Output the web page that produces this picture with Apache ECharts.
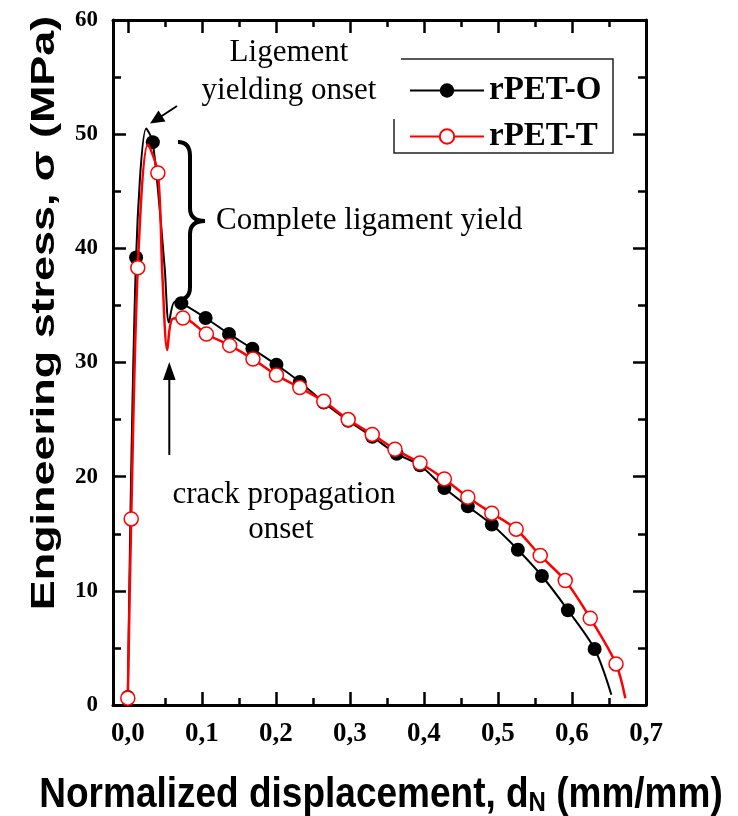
<!DOCTYPE html>
<html><head><meta charset="utf-8">
<script src="https://cdn.jsdelivr.net/npm/echarts@6/dist/echarts.min.js"></script>
<style>html,body{margin:0;padding:0;background:#fff}#c{width:738px;height:816px}</style>
</head><body><div id="c"></div>
<script>
// ---- data ----
const xMajorTicks = [0, 0.1, 0.2, 0.3, 0.4, 0.5, 0.6, 0.7];
const xMinorTicks = [0.05, 0.15, 0.25, 0.35, 0.45, 0.55, 0.65];
const seriesNames = ['rPET-O', 'rPET-T'];

// rPET-O curve points (x = normalized displacement, y = stress MPa), marker flags
const oX = [0.000, 0.0112, 0.0249, 0.0338, 0.0497, 0.0555, 0.0630, 0.0723, 0.1051, 0.1367, 0.1683, 0.2008, 0.2323, 0.2647, 0.2977, 0.3302, 0.3632, 0.3947, 0.4276, 0.4593, 0.4917, 0.5269, 0.5594, 0.5946, 0.6306, 0.6532];
const oY = [0.7, 39.2, 50.5, 49.3, 38.4, 33.5, 35.3, 35.2, 33.9, 32.5, 31.2, 29.8, 28.3, 26.5, 24.9, 23.5, 22.0, 21.0, 19.0, 17.4, 15.8, 13.6, 11.3, 8.3, 4.9, 0.9];
const oMark = [1, 1, 0, 1, 0, 0, 0, 1, 1, 1, 1, 1, 1, 1, 1, 1, 1, 1, 1, 1, 1, 1, 1, 1, 1, 0];

// rPET-T curve points
const tX = [0.000, 0.0046, 0.0135, 0.0271, 0.0406, 0.0468, 0.0533, 0.0600, 0.0744, 0.1061, 0.1376, 0.1691, 0.2008, 0.2323, 0.2647, 0.2977, 0.3302, 0.3609, 0.3947, 0.4276, 0.4593, 0.4917, 0.5246, 0.5571, 0.5909, 0.6247, 0.6595, 0.6721];
const tY = [0.6, 16.3, 38.3, 49.1, 46.6, 37.5, 31.1, 33.8, 33.9, 32.5, 31.5, 30.3, 28.9, 27.8, 26.6, 25.0, 23.7, 22.4, 21.2, 19.8, 18.2, 16.8, 15.4, 13.1, 10.9, 7.6, 3.6, 0.6];
const tMark = [1, 1, 1, 0, 1, 0, 0, 0, 1, 1, 1, 1, 1, 1, 1, 1, 1, 1, 1, 1, 1, 1, 1, 1, 1, 1, 1, 0];

function build(xs, ys, marks) {
  return xs.map((x, i) => ({ value: [x, ys[i]], symbol: marks[i] ? 'circle' : 'none' }));
}

const SERIF = '"Liberation Serif", "Times New Roman", serif';
const SANS = '"Liberation Sans", Arial, sans-serif';
const chart = echarts.init(document.getElementById('c'), null, { renderer: 'canvas' });

const axisLineStyle = { color: '#000', width: 3 };
const gridRect = { left: 113, right: 92, top: 20, bottom: 111 };

const xMajorBase = {
  type: 'value', min: -0.02, max: 0.7, gridIndex: 0,
  axisLine: { show: true, onZero: false, lineStyle: axisLineStyle },
  axisTick: { show: true, inside: true, length: 13, lineStyle: { color: '#000', width: 2.5 }, customValues: xMajorTicks },
  splitLine: { show: false }
};
const xMinorBase = {
  type: 'value', min: -0.02, max: 0.7, gridIndex: 1,
  axisLine: { show: false, onZero: false },
  axisTick: { show: true, inside: true, length: 7, lineStyle: { color: '#000', width: 2.5 }, customValues: xMinorTicks },
  axisLabel: { show: false },
  splitLine: { show: false }
};
const yBase = {
  type: 'value', min: 0, max: 60, interval: 10, gridIndex: 0,
  axisLine: { show: true, onZero: false, lineStyle: axisLineStyle },
  axisTick: { show: true, inside: true, length: 13, lineStyle: { color: '#000', width: 2.5 } },
  minorTick: { show: true, splitNumber: 2, length: 8, lineStyle: { color: '#000', width: 2.5 } },
  splitLine: { show: false }
};

const option = {
  animation: false,
  backgroundColor: '#fff',
  grid: [Object.assign({}, gridRect), Object.assign({}, gridRect)],
  xAxis: [
    Object.assign({}, xMajorBase, {
      position: 'bottom',
      axisLabel: {
        show: true, customValues: xMajorTicks, margin: 16,
        formatter: v => v.toFixed(1).replace('.', ','),
        fontFamily: SERIF, fontWeight: 'bold', fontSize: 27, color: '#000'
      }
    }),
    Object.assign({}, xMajorBase, { position: 'top', axisLabel: { show: false } }),
    Object.assign({}, xMinorBase, { position: 'bottom' }),
    Object.assign({}, xMinorBase, { position: 'top' })
  ],
  yAxis: [
    Object.assign({}, yBase, {
      position: 'left',
      axisLabel: { show: true, margin: 15, fontFamily: SERIF, fontWeight: 'bold', fontSize: 23, color: '#000' }
    }),
    Object.assign({}, yBase, { position: 'right', axisLabel: { show: false } }),
    { type: 'value', min: 0, max: 60, gridIndex: 1, show: false },
    { type: 'value', min: 0, max: 60, gridIndex: 1, show: false, position: 'right' }
  ],
  legend: {
    data: seriesNames,
    orient: 'vertical', left: 409, top: 74, padding: 0,
    itemWidth: 74, itemHeight: 18, itemGap: 13,
    textStyle: { fontFamily: SERIF, fontWeight: 'bold', fontSize: 33, color: '#000' },
    selectedMode: false
  },
  series: [
    {
      name: seriesNames[0], type: 'line', xAxisIndex: 0, yAxisIndex: 0,
      smooth: 0.3, symbol: 'circle', symbolSize: 14, showAllSymbol: true,
      lineStyle: { color: '#000', width: 2 },
      itemStyle: { color: '#000', borderColor: '#000', borderWidth: 0 },
      data: build(oX, oY, oMark), z: 3
    },
    {
      name: seriesNames[1], type: 'line', xAxisIndex: 0, yAxisIndex: 0,
      smooth: 0.3, symbol: 'circle', symbolSize: 14, showAllSymbol: true,
      lineStyle: { color: '#ff0000', width: 2.5 },
      itemStyle: { color: '#fff', borderColor: '#ff0000', borderWidth: 1.5 },
      data: build(tX, tY, tMark), z: 4
    }
  ],
  graphic: [
    // legend frame (partially open at the top-left like the original)
    { type: 'polyline', shape: { points: [[401, 59], [613, 59], [613, 153], [394, 153], [394, 119]] },
      style: { stroke: '#222', lineWidth: 1.5, fill: null }, z: 10 },
    // annotations
    { type: 'text', x: 289, y: 53, style: { text: 'Ligement', font: '31px ' + SERIF, fill: '#000', align: 'center', verticalAlign: 'middle' }, z: 10 },
    { type: 'text', x: 289, y: 91, style: { text: 'yielding onset', font: '31px ' + SERIF, fill: '#000', align: 'center', verticalAlign: 'middle' }, z: 10 },
    { type: 'text', x: 216, y: 221, style: { text: 'Complete ligament yield', font: '31px ' + SERIF, fill: '#000', align: 'left', verticalAlign: 'middle' }, z: 10 },
    { type: 'text', x: 284, y: 495, style: { text: 'crack propagation', font: '31px ' + SERIF, fill: '#000', align: 'center', verticalAlign: 'middle' }, z: 10 },
    { type: 'text', x: 281, y: 530, style: { text: 'onset', font: '31px ' + SERIF, fill: '#000', align: 'center', verticalAlign: 'middle' }, z: 10 },
    // arrow to yielding onset
    { type: 'line', shape: { x1: 177, y1: 106, x2: 161, y2: 116.5 }, style: { stroke: '#000', lineWidth: 2 }, z: 10 },
    { type: 'polygon', shape: { points: [[150, 123.5], [165.5, 121.5], [158.5, 110.5]] }, style: { fill: '#000' }, z: 10 },
    // arrow to crack propagation onset
    { type: 'line', shape: { x1: 169.3, y1: 455, x2: 169.3, y2: 376 }, style: { stroke: '#000', lineWidth: 2 }, z: 10 },
    { type: 'polygon', shape: { points: [[169.3, 362], [163, 380], [175.6, 380]] }, style: { fill: '#000' }, z: 10 },
    // curly brace
    { type: 'bezierCurve', shape: { x1: 178, y1: 142, cpx1: 190, cpy1: 142, x2: 190, y2: 156 }, style: { stroke: '#000', lineWidth: 4, fill: null }, z: 10 },
    { type: 'line', shape: { x1: 190, y1: 155, x2: 190, y2: 209 }, style: { stroke: '#000', lineWidth: 4 }, z: 10 },
    { type: 'bezierCurve', shape: { x1: 190, y1: 208, cpx1: 190, cpy1: 221, x2: 205, y2: 221 }, style: { stroke: '#000', lineWidth: 4, fill: null }, z: 10 },
    { type: 'bezierCurve', shape: { x1: 205, y1: 221, cpx1: 190, cpy1: 221, x2: 190, y2: 234 }, style: { stroke: '#000', lineWidth: 4, fill: null }, z: 10 },
    { type: 'line', shape: { x1: 190, y1: 233, x2: 190, y2: 288 }, style: { stroke: '#000', lineWidth: 4 }, z: 10 },
    { type: 'bezierCurve', shape: { x1: 190, y1: 287, cpx1: 190, cpy1: 300, x2: 177, y2: 300 }, style: { stroke: '#000', lineWidth: 4, fill: null }, z: 10 },
    // axis titles
    { type: 'text', x: 381, y: 795, scaleY: 1.15, z: 10,
      style: { text: 'Normalized displacement, d{sub|N} (mm/mm)', font: 'bold 37px ' + SANS, fill: '#000', align: 'center', verticalAlign: 'middle',
        rich: { sub: { fontSize: 24, fontWeight: 'bold', fontFamily: SANS, fill: '#000', padding: [14, 0, 0, 0], verticalAlign: 'bottom' } } } },
    { type: 'text', x: 45, y: 313, rotation: Math.PI / 2, scaleX: 1.36, z: 10,
      style: { text: 'Engineering stress, σ (MPa)', font: 'bold 33px ' + SANS, fill: '#000', align: 'center', verticalAlign: 'middle' } }
  ]
};
chart.setOption(option);
</script>
</body></html>
